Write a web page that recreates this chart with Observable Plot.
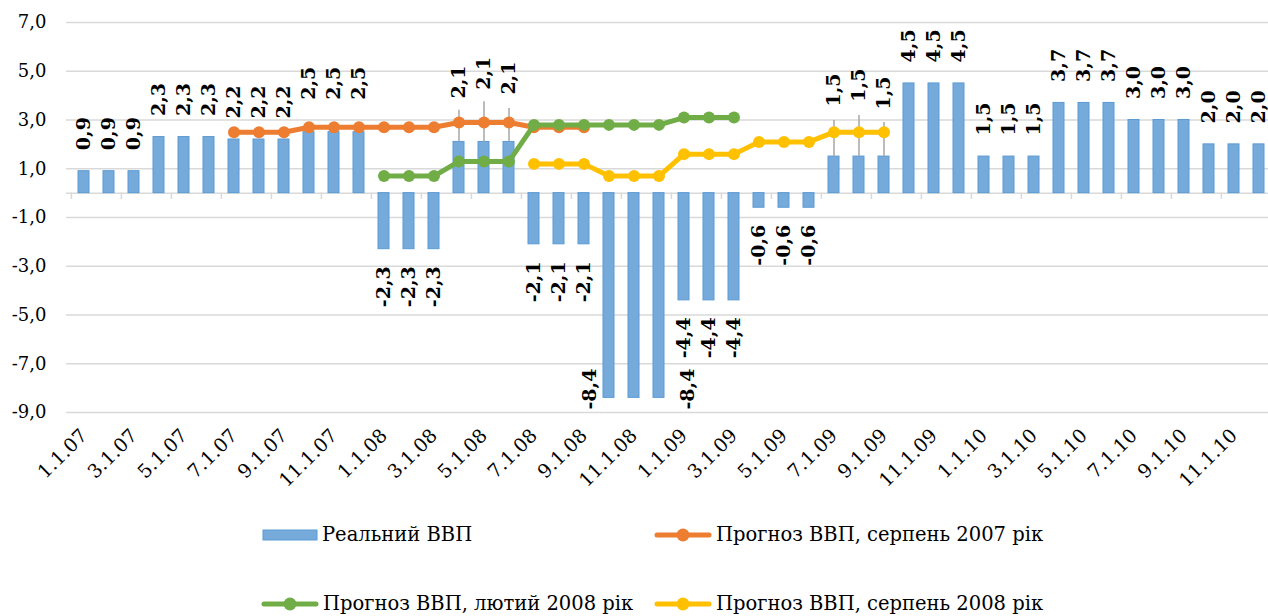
<!DOCTYPE html>
<html><head><meta charset="utf-8">
<script src="https://cdn.jsdelivr.net/npm/d3@7"></script>
<script src="https://cdn.jsdelivr.net/npm/@observablehq/plot@0.6"></script>
<style>
body{margin:0;background:#fff;font-family:"DejaVu Serif","Liberation Serif",serif;}
#wrap{position:relative;width:1268px;height:616px;overflow:hidden;background:#fff}
#chart svg{max-width:none !important}
.leg{position:absolute;display:flex;align-items:center;font-size:19.5px;white-space:nowrap;color:#000;height:24px;line-height:24px}
.leg svg{margin-right:4px;flex:none}
svg text{font-family:"DejaVu Serif","Liberation Serif",serif;}
</style></head><body><div id="wrap"><div id="chart"></div><div id="legend"></div></div>
<script>
// ---- data ----
const months = [
  "1.1.07","2.1.07","3.1.07","4.1.07","5.1.07","6.1.07","7.1.07","8.1.07","9.1.07","10.1.07","11.1.07","12.1.07",
  "1.1.08","2.1.08","3.1.08","4.1.08","5.1.08","6.1.08","7.1.08","8.1.08","9.1.08","10.1.08","11.1.08","12.1.08",
  "1.1.09","2.1.09","3.1.09","4.1.09","5.1.09","6.1.09","7.1.09","8.1.09","9.1.09","10.1.09","11.1.09","12.1.09",
  "1.1.10","2.1.10","3.1.10","4.1.10","5.1.10","6.1.10","7.1.10","8.1.10","9.1.10","10.1.10","11.1.10","12.1.10"
];
const tickMonths = ["1.1.07","3.1.07","5.1.07","7.1.07","9.1.07","11.1.07","1.1.08","3.1.08","5.1.08","7.1.08","9.1.08","11.1.08",
  "1.1.09","3.1.09","5.1.09","7.1.09","9.1.09","11.1.09","1.1.10","3.1.10","5.1.10","7.1.10","9.1.10","11.1.10"];
const realGDP = [
  0.9,0.9,0.9, 2.3,2.3,2.3, 2.2,2.2,2.2, 2.5,2.5,2.5,
  -2.3,-2.3,-2.3, 2.1,2.1,2.1, -2.1,-2.1,-2.1, -8.4,-8.4,-8.4,
  -4.4,-4.4,-4.4, -0.6,-0.6,-0.6, 1.5,1.5,1.5, 4.5,4.5,4.5,
  1.5,1.5,1.5, 3.7,3.7,3.7, 3.0,3.0,3.0, 2.0,2.0,2.0
];
const aug2007Months = ["7.1.07","8.1.07","9.1.07","10.1.07","11.1.07","12.1.07","1.1.08","2.1.08","3.1.08","4.1.08","5.1.08","6.1.08","7.1.08","8.1.08","9.1.08"];
const aug2007Values = [2.5,2.5,2.5,2.7,2.7,2.7,2.7,2.7,2.7,2.9,2.9,2.9,2.7,2.7,2.7];
const feb2008Months = ["1.1.08","2.1.08","3.1.08","4.1.08","5.1.08","6.1.08","7.1.08","8.1.08","9.1.08","10.1.08","11.1.08","12.1.08","1.1.09","2.1.09","3.1.09"];
const feb2008Values = [0.7,0.7,0.7,1.3,1.3,1.3,2.8,2.8,2.8,2.8,2.8,2.8,3.1,3.1,3.1];
const aug2008Months = ["7.1.08","8.1.08","9.1.08","10.1.08","11.1.08","12.1.08","1.1.09","2.1.09","3.1.09","4.1.09","5.1.09","6.1.09","7.1.09","8.1.09","9.1.09"];
const aug2008Values = [1.2,1.2,1.2,0.7,0.7,0.7,1.6,1.6,1.6,2.1,2.1,2.1,2.5,2.5,2.5];
const yTicks = [-9,-7,-5,-3,-1,1,3,5,7];
const seriesNames = ["Реальний ВВП","Прогноз ВВП, серпень 2007 рік","Прогноз ВВП, лютий 2008 рік","Прогноз ВВП, серпень 2008 рік"];
// label placement (in value units) where the original moved a data label
const labelBase = {9:2.97,10:2.97,11:2.97,15:3.02,16:3.38,17:3.18,21:-6.5,23:-6.5,30:2.69,31:2.89,32:2.57};
const leaderTop = {15:3.40,16:3.75,17:3.47,30:2.98,31:3.18,32:2.90};

// ---- styles ----
const FONT = '"DejaVu Serif","Liberation Serif",serif';
const C = {bar:"#75aadb", barStroke:"#5b9bd5", orange:"#ed7d31", green:"#70ad47", yellow:"#ffc000", grid:"#d9d9d9", leader:"#a6a6a6"};
const fmt = v => v.toFixed(1).replace(".", ",");

const bars = months.map((m,i) => ({month:m, value:realGDP[i], base: labelBase[i] ?? realGDP[i], i}));
const leaders = Object.keys(leaderTop).map(k => ({month: months[+k], v1: realGDP[+k], v2: leaderTop[k]}));
const mk = (ms, vs) => ms.map((m,i)=>({month:m, value:vs[i]}));
const s1 = mk(aug2007Months, aug2007Values), s2 = mk(feb2008Months, feb2008Values), s3 = mk(aug2008Months, aug2008Values);

const labelFont = {fontFamily: FONT, fontWeight:"bold", fontSize:19, fill:"#000", rotate:-90};
const normalPos = bars.filter(d => d.value > 0);
const normalNeg = bars.filter(d => d.value < 0 && d.value > -8);
const STEP = 25.21;

const chart = Plot.plot({
  width: 1276, height: 500,
  marginTop: 22, marginBottom: 88, marginLeft: 66, marginRight: 0,
  style: {fontFamily: FONT, fontSize:"18px", color:"#000", background:"#fff", overflow:"visible", maxWidth:"none"},
  x: {type:"band", domain: months, paddingInner: 0.56, paddingOuter: 0.28, label: null},
  y: {domain:[-9,7], label: null},
  marks: [
    Plot.gridY(yTicks, {stroke: C.grid, strokeOpacity: 1, strokeWidth: 1.5}),
    Plot.ruleY([0], {stroke: C.grid, strokeWidth: 1.5}),
    Plot.ruleX(tickMonths, {x: d=>d, y1: 0, y2: -0.26, dx: -STEP/2, stroke: C.grid, strokeWidth: 1.5}),
    Plot.axisY({ticks: yTicks, tickFormat: fmt, tickSize: 0, tickPadding: 20, fontSize: 18, label: null}),
    Plot.axisX({ticks: tickMonths, tickRotate: -45, tickSize: 0, tickPadding: 20, fontSize: 19, textAnchor: "end", label: null}),
    Plot.barY(bars, {x:"month", y:"value", fill: C.bar, stroke: C.barStroke, strokeWidth: 1}),
    Plot.ruleX(leaders, {x:"month", y1:"v1", y2:"v2", stroke: C.leader, strokeWidth: 1.5}),
    Plot.line(s1, {x:"month", y:"value", stroke: C.orange, strokeWidth: 5}),
    Plot.dot(s1, {x:"month", y:"value", fill: C.orange, r: 6}),
    Plot.line(s2, {x:"month", y:"value", stroke: C.green, strokeWidth: 5}),
    Plot.dot(s2, {x:"month", y:"value", fill: C.green, r: 6}),
    Plot.line(s3, {x:"month", y:"value", stroke: C.yellow, strokeWidth: 5}),
    Plot.dot(s3, {x:"month", y:"value", fill: C.yellow, r: 6}),
    Plot.text(normalPos, {x:"month", y:"base", text: d=>fmt(d.value), textAnchor:"start", dy:-21, ...labelFont}),
    Plot.text(normalNeg, {x:"month", y:"base", text: d=>fmt(d.value), textAnchor:"end", dy:17, ...labelFont}),
    Plot.text(bars.filter(d=>d.i===21), {x:"month", y:"base", text: d=>fmt(d.value), textAnchor:"end", dy:17, dx:-19, ...labelFont}),
    Plot.text(bars.filter(d=>d.i===23), {x:"month", y:"base", text: d=>fmt(d.value), textAnchor:"end", dy:17, dx:29, ...labelFont})
  ]
});
document.getElementById("chart").appendChild(chart);

// ---- legend ----
const legend = document.getElementById("legend");
const swBar = `<svg width="56" height="16"><rect x="1" y="3" width="54" height="10" fill="${C.bar}" stroke="${C.barStroke}" stroke-width="1"/></svg>`;
const swLine = c => `<svg width="58" height="16"><line x1="3" y1="8" x2="55" y2="8" stroke="${c}" stroke-width="5" stroke-linecap="round"/><circle cx="29" cy="8" r="6.5" fill="${c}"/></svg>`;
const items = [
  {sw: swBar, name: seriesNames[0], left: 262, top: 523},
  {sw: swLine(C.orange), name: seriesNames[1], left: 654, top: 523},
  {sw: swLine(C.green), name: seriesNames[2], left: 261, top: 592},
  {sw: swLine(C.yellow), name: seriesNames[3], left: 654, top: 592}
];
for (const it of items) {
  const d = document.createElement("div");
  d.className = "leg";
  d.style.left = it.left + "px";
  d.style.top = it.top + "px";
  d.innerHTML = it.sw + `<span>${it.name}</span>`;
  legend.appendChild(d);
}
</script></body></html>
